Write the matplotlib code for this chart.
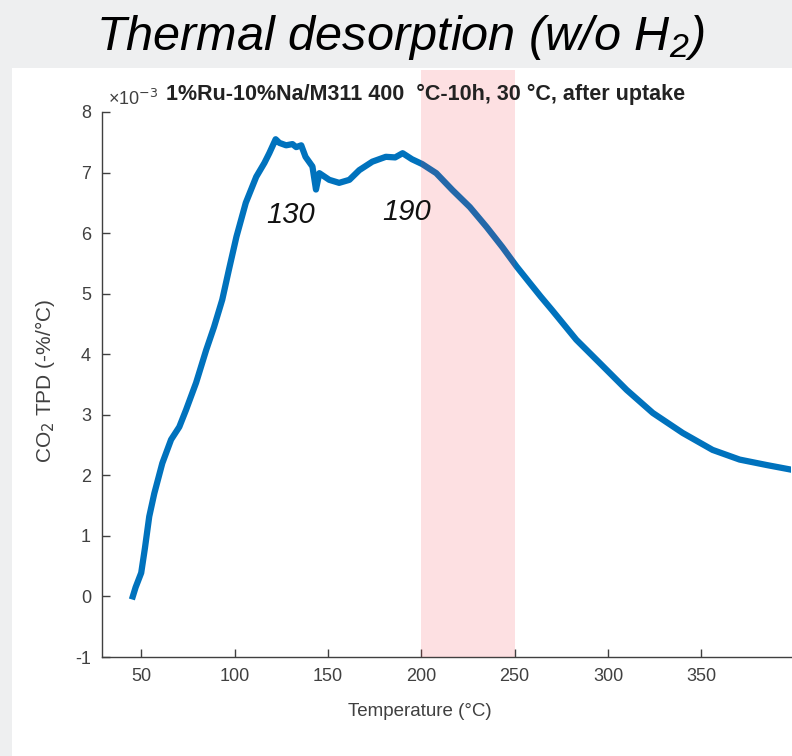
import matplotlib
matplotlib.use("Agg")
import matplotlib.pyplot as plt
from matplotlib.patches import Rectangle
import matplotlib.transforms as mtransforms

# CO2 TPD curve, values in units of 1e-3 %/degC
temperature = [45.5, 47, 50, 52, 54.3, 57, 61.3, 66, 70.4, 74, 79.4, 84.8, 89, 93.4,
               97, 101, 106, 111.6, 116, 118.6, 122, 124, 127.6, 131, 133, 135.7,
               138, 141.7, 143.6, 145.4, 150.7, 156, 161.5, 166.8, 173.8, 181, 186,
               190, 195, 200.5, 208, 216.7, 226, 235, 243.4, 251, 258, 264, 270,
               283, 295.4, 310, 324, 340, 356, 370.5, 385, 397]
tpd = [0.0, 0.15, 0.39, 0.8, 1.32, 1.7, 2.2, 2.59, 2.8, 3.08, 3.53, 4.07, 4.45, 4.9,
       5.4, 5.94, 6.5, 6.93, 7.16, 7.32, 7.55, 7.49, 7.45, 7.47, 7.42, 7.45,
       7.26, 7.1, 6.72, 6.99, 6.88, 6.83, 6.88, 7.04, 7.18, 7.26, 7.25,
       7.32, 7.22, 7.14, 6.99, 6.71, 6.43, 6.1, 5.77, 5.45, 5.18, 4.95, 4.73,
       4.24, 3.86, 3.41, 3.03, 2.7, 2.42, 2.26, 2.17, 2.1]

peaks = [130, 190]
peak_pos = [(130, 6.3), (192, 6.35)]
span = (200, 250)
xticks = [50, 100, 150, 200, 250, 300, 350]
yticks = list(range(-1, 9))

plt.rcParams['font.family'] = ['Liberation Sans', 'DejaVu Sans']
plt.rcParams['axes.unicode_minus'] = False
plt.rcParams['mathtext.fontset'] = 'custom'
plt.rcParams['mathtext.rm'] = 'Liberation Sans:italic'
plt.rcParams['mathtext.it'] = 'Liberation Sans:italic'

fig = plt.figure(figsize=(7.92, 7.56), dpi=100, facecolor='#eeeff0')
# white slide area
fig.patches.append(Rectangle((12 / 792, 0), 1, 1 - 68 / 756, transform=fig.transFigure,
                             facecolor='white', edgecolor='none', zorder=-5))

fig.text(400 / 792, 1 - 38 / 756, 'Thermal desorption (w/o H$_2$)', ha='center', va='center',
         fontsize=35, style='italic')

ax = fig.add_axes([102 / 792, 1 - 657 / 756, 689 / 792, 545 / 756])
ax.set_facecolor('none')
axcol = '#404040'

ax.plot(temperature, tpd, color='#0072BD', lw=4.5, solid_joinstyle='round', zorder=2)

trans = mtransforms.blended_transform_factory(ax.transData, ax.transAxes)
ax.add_patch(Rectangle((span[0], 0), span[1] - span[0], (657 - 70) / 545, transform=trans,
                       facecolor=(0.95, 0.19, 0.24), alpha=0.15, edgecolor='none',
                       clip_on=False, zorder=3))

for p, (x, y) in zip(peaks, peak_pos):
    ax.text(x, y, str(p), fontsize=21, style='italic', color='#111111',
            ha='center', va='center', zorder=4)

ax.set_xlim(29, 398)
ax.set_ylim(-1, 8)
ax.set_xticks(xticks)
ax.set_yticks(yticks)
ax.tick_params(direction='in', length=6, width=1, colors=axcol, labelsize=13, pad=8)
for s in ['top', 'right']:
    ax.spines[s].set_visible(False)
for s in ['left', 'bottom']:
    ax.spines[s].set_color(axcol)
    ax.spines[s].set_linewidth(1)

ax.set_xlabel('Temperature (°C)', fontsize=13.5, color=axcol, va='center')
ax.xaxis.set_label_coords((420 - 102) / 689, (657 - 712) / 545)
ax.set_ylabel('CO$_2$ TPD (-%/°C)', fontsize=15, color=axcol, va='center',
              math_fontfamily='dejavusans')
ax.yaxis.set_label_coords((45 - 102) / 689, 0.506)

ax.text(0.008, 1.005, '×10$^{-3}$', transform=ax.transAxes, fontsize=13, color=axcol,
        ha='left', va='bottom', math_fontfamily='dejavusans')
ax.text(0.093, 1.012, '1%Ru-10%Na/M311 400  °C-10h, 30 °C, after uptake', transform=ax.transAxes,
        fontsize=15.5, fontweight='bold', color='#222222', ha='left', va='bottom')

fig.savefig('out.png', dpi=100, facecolor=fig.get_facecolor())
